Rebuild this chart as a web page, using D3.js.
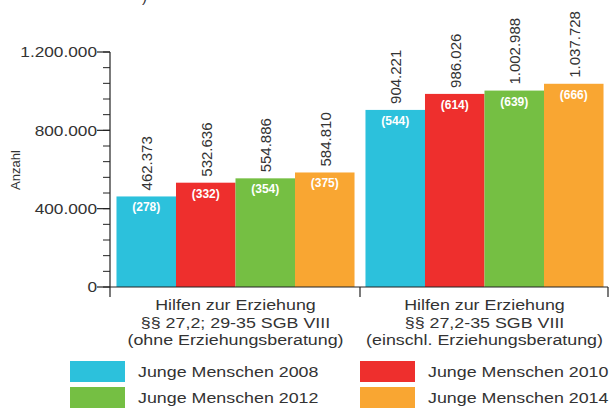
<!DOCTYPE html>
<html>
<head>
<meta charset="utf-8">
<script src="https://cdn.jsdelivr.net/npm/d3@7"></script>
<style>
  body { margin: 0; background: #fff; }
  svg { display: block; font-family: "Liberation Sans", Arial, sans-serif; }
</style>
</head>
<body>
<svg id="chart" width="610" height="408"></svg>
<script>
// Data
const groups = [
  ['Hilfen zur Erziehung', '§§ 27,2; 29-35 SGB VIII', '(ohne Erziehungsberatung)'],
  ['Hilfen zur Erziehung', '§§ 27,2-35 SGB VIII', '(einschl. Erziehungsberatung)'],
];
const series = ['Junge Menschen 2008', 'Junge Menschen 2010', 'Junge Menschen 2012', 'Junge Menschen 2014'];
const values = [
  [462373, 532636, 554886, 584810],
  [904221, 986026, 1002988, 1037728],
];
const perThousand = [
  [278, 332, 354, 375],
  [544, 614, 639, 666],
];
const colors = ['#2cc1dc', '#ee2f2d', '#75bf43', '#f9a632'];
const majorTicks = [0, 400000, 800000, 1200000];

const svg = d3.select('#chart');
const fmt = d3.formatLocale({ decimal: ',', thousands: '.', grouping: [3] }).format(',');

// text in the source is a bit wider than Liberation Sans, so stretch it sideways
const wideText = (parent, x, y, sx) =>
  parent.append('g').attr('transform', `translate(${x},${y}) scale(${sx},1)`).append('text');

const x0 = d3.scaleBand().domain([0, 1]).range([112, 608]).paddingInner(0.044).paddingOuter(0.018);
const x1 = d3.scaleBand().domain(d3.range(series.length)).range([0, x0.bandwidth()]);
const y = d3.scaleLinear().domain([0, 1200000]).range([287, 52]);

// cropped title remnant
svg.append('text').attr('x', 142).attr('y', 2).style('font-size', '15px').attr('fill', '#333').text(')');

// y axis
const yAxis = svg.append('g');
yAxis.append('line').attr('x1', 110).attr('x2', 110).attr('y1', 52).attr('y2', 297)
  .attr('stroke', '#222').attr('stroke-width', 1.2);
yAxis.selectAll('.minor').data(d3.range(0, 1200001, 80000)).join('line')
  .attr('x1', 103).attr('x2', 110).attr('y1', (d) => y(d)).attr('y2', (d) => y(d))
  .attr('stroke', '#222').attr('stroke-width', 1);
yAxis.selectAll('.major').data(majorTicks).join('line')
  .attr('x1', 97).attr('x2', 110).attr('y1', (d) => y(d)).attr('y2', (d) => y(d))
  .attr('stroke', '#222').attr('stroke-width', 1.2);
majorTicks.forEach((d) => {
  wideText(yAxis, 97, y(d), 1.15)
    .attr('dy', '0.36em').attr('text-anchor', 'end')
    .style('font-size', '15px').attr('fill', '#333')
    .text(fmt(d));
});

svg.append('text')
  .attr('transform', 'rotate(-90)').attr('x', -170).attr('y', 20)
  .attr('text-anchor', 'middle').style('font-size', '13px').attr('fill', '#333')
  .text('Anzahl');

// bars
const g = svg.selectAll('.grp').data(groups).join('g')
  .attr('transform', (d, i) => `translate(${x0(i)},0)`);

g.each(function (d, gi) {
  const grp = d3.select(this);
  const rows = values[gi].map((v, si) => ({ v, si, n: perThousand[gi][si] }));
  grp.selectAll('rect').data(rows).join('rect')
    .attr('x', (r) => x1(r.si)).attr('width', x1.bandwidth())
    .attr('y', (r) => y(r.v)).attr('height', (r) => y(0) - y(r.v))
    .attr('fill', (r) => colors[r.si]);
  grp.selectAll('.inner').data(rows).join('text')
    .attr('x', (r) => x1(r.si) + x1.bandwidth() / 2).attr('y', (r) => y(r.v) + 15)
    .attr('text-anchor', 'middle').style('font-size', '12px').style('font-weight', 'bold')
    .attr('fill', '#fff').text((r) => `(${r.n})`);
  grp.selectAll('.val').data(rows).join('text')
    .attr('transform', (r) => `translate(${x1(r.si) + x1.bandwidth() / 2 + 6},${y(r.v) - 6}) rotate(-90)`)
    .style('font-size', '15px').attr('fill', '#333')
    .text((r) => fmt(r.v));
});

// x axis
svg.append('line').attr('x1', 110).attr('x2', 608).attr('y1', 287).attr('y2', 287)
  .attr('stroke', '#222').attr('stroke-width', 1.2);
[x0(1) - (x0.step() - x0.bandwidth()) / 2, 608].forEach((xx) => {
  svg.append('line').attr('x1', xx).attr('x2', xx).attr('y1', 287).attr('y2', 297)
    .attr('stroke', '#222').attr('stroke-width', 1.2);
});

groups.forEach((lines, i) => {
  lines.forEach((l, k) => {
    wideText(svg, x0(i) + x0.bandwidth() / 2, 310 + k * 17.5, 1.19)
      .attr('text-anchor', 'middle')
      .style('font-size', '15px').attr('fill', '#333')
      .text(l);
  });
});

// legend
const legendX = [70, 360];
const legendY = [361, 387];
series.forEach((s, i) => {
  const lx = legendX[i % 2];
  const ly = legendY[Math.floor(i / 2)];
  svg.append('rect').attr('x', lx).attr('y', ly).attr('width', 55).attr('height', 21).attr('fill', colors[i]);
  wideText(svg, lx + 68, ly + 11, 1.19)
    .attr('dy', '0.36em')
    .style('font-size', '15px').attr('fill', '#333').text(s);
});
</script>
</body>
</html>
